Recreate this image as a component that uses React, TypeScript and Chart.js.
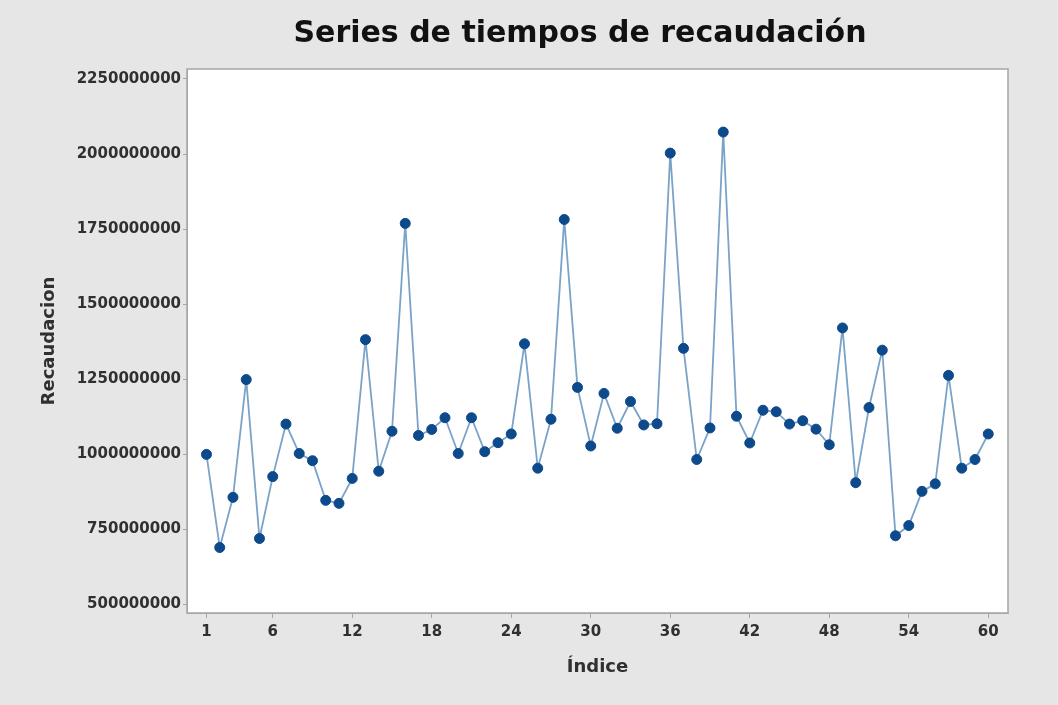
import React, { useEffect, useRef } from "react";
import { Chart, registerables } from "chart.js";

Chart.register(...registerables);

const TITLE = "Series de tiempos de recaudación";
const X_TITLE = "Índice";
const Y_TITLE = "Recaudacion";

const indices: number[] = Array.from({ length: 60 }, (_, i) => i + 1);

// values in millions
const recaudacionM: number[] = [
  1000, 690, 857, 1249, 720, 926, 1101, 1003, 979, 847,
  837, 920, 1382, 944, 1077, 1769, 1063, 1083, 1122, 1003,
  1122, 1009, 1039, 1068, 1368, 954, 1117, 1782, 1223, 1028,
  1203, 1087, 1176, 1098, 1102, 2003, 1353, 983, 1088, 2073,
  1127, 1038, 1147, 1142, 1101, 1112, 1084, 1032, 1421, 906,
  1156, 1347, 729, 763, 877, 902, 1263, 954, 983, 1068,
];

const X_TICKS: number[] = [1, 6, 12, 18, 24, 30, 36, 42, 48, 54, 60];
const Y_TICKS: number[] = [
  500000000, 750000000, 1000000000, 1250000000, 1500000000,
  1750000000, 2000000000, 2250000000,
];

const BG = "#e6e6e6";
const FRAME = "#a6a6a6";
const TEXT = "#303030";
const FONT = "'DejaVu Sans', sans-serif";

const framePlugin = {
  id: "frameBg",
  beforeDraw(chart: any) {
    const { ctx, chartArea, width, height } = chart;
    ctx.save();
    ctx.fillStyle = BG;
    ctx.fillRect(0, 0, width, height);
    ctx.fillStyle = "#ffffff";
    ctx.fillRect(chartArea.left, chartArea.top, chartArea.right - chartArea.left, chartArea.bottom - chartArea.top);
    ctx.restore();
  },
  afterDraw(chart: any) {
    const { ctx, chartArea } = chart;
    ctx.save();
    ctx.strokeStyle = FRAME;
    ctx.lineWidth = 1.5;
    ctx.strokeRect(chartArea.left, chartArea.top, chartArea.right - chartArea.left, chartArea.bottom - chartArea.top);
    ctx.fillStyle = "#111111";
    ctx.font = `bold 30px ${FONT}`;
    ctx.textAlign = "center";
    ctx.textBaseline = "middle";
    ctx.fillText(TITLE, 580, 34);
    ctx.restore();
  },
};

export default function App() {
  const ref = useRef<HTMLCanvasElement | null>(null);

  useEffect(() => {
    document.body.style.margin = "0";
    const canvas = ref.current;
    if (!canvas) return;
    const data = indices.map((x, i) => ({ x, y: recaudacionM[i] * 1e6 }));
    const chart = new Chart(canvas, {
      type: "line",
      data: {
        datasets: [
          {
            label: Y_TITLE,
            data,
            borderColor: "#7ba3c8",
            borderWidth: 1.8,
            pointRadius: 5,
            pointBackgroundColor: "#0d4a8c",
            pointBorderColor: "#0d4a8c",
            pointBorderWidth: 1,
            tension: 0,
          },
        ],
      },
      options: {
        responsive: false,
        animation: false,
        layout: { padding: { left: 0, right: 50, top: 69, bottom: 0 } },
        plugins: {
          legend: { display: false },
          title: { display: false },
          tooltip: { enabled: false },
        },
        scales: {
          x: {
            type: "linear",
            min: -0.47,
            max: 61.49,
            afterBuildTicks: (axis: any) => {
              axis.ticks = X_TICKS.map((v) => ({ value: v }));
            },
            afterFit: (axis: any) => {
              axis.height = 92;
            },
            ticks: {
              autoSkip: false,
              maxRotation: 0,
              padding: 5,
              color: TEXT,
              font: { family: FONT, size: 15, weight: "bold" },
              callback: (v: any) => String(v),
            },
            grid: {
              drawOnChartArea: false,
              drawTicks: true,
              tickLength: 5,
              color: FRAME,
            },
            border: { display: true, color: FRAME },
            title: {
              display: true,
              text: X_TITLE,
              color: TEXT,
              font: { family: FONT, size: 18, weight: "bold" },
              padding: { top: 0, bottom: 27 },
            },
          },
          y: {
            type: "linear",
            min: 472000000,
            max: 2283000000,
            afterBuildTicks: (axis: any) => {
              axis.ticks = Y_TICKS.map((v) => ({ value: v }));
            },
            afterFit: (axis: any) => {
              axis.width = 187;
            },
            ticks: {
              autoSkip: false,
              padding: 2,
              color: TEXT,
              font: { family: FONT, size: 15, weight: "bold" },
              callback: (v: any) => String(v),
            },
            grid: {
              drawOnChartArea: false,
              drawTicks: true,
              tickLength: 4,
              color: FRAME,
            },
            border: { display: true, color: FRAME },
            title: {
              display: true,
              text: Y_TITLE,
              color: TEXT,
              font: { family: FONT, size: 18, weight: "bold" },
              padding: { top: 39, bottom: 0 },
            },
          },
        },
      },
      plugins: [framePlugin],
    });
    return () => chart.destroy();
  }, []);

  return (
    <div style={{ position: "fixed", left: 0, top: 0, width: 1058, height: 705 }}>
      <canvas ref={ref} width={1058} height={705} />
    </div>
  );
}
